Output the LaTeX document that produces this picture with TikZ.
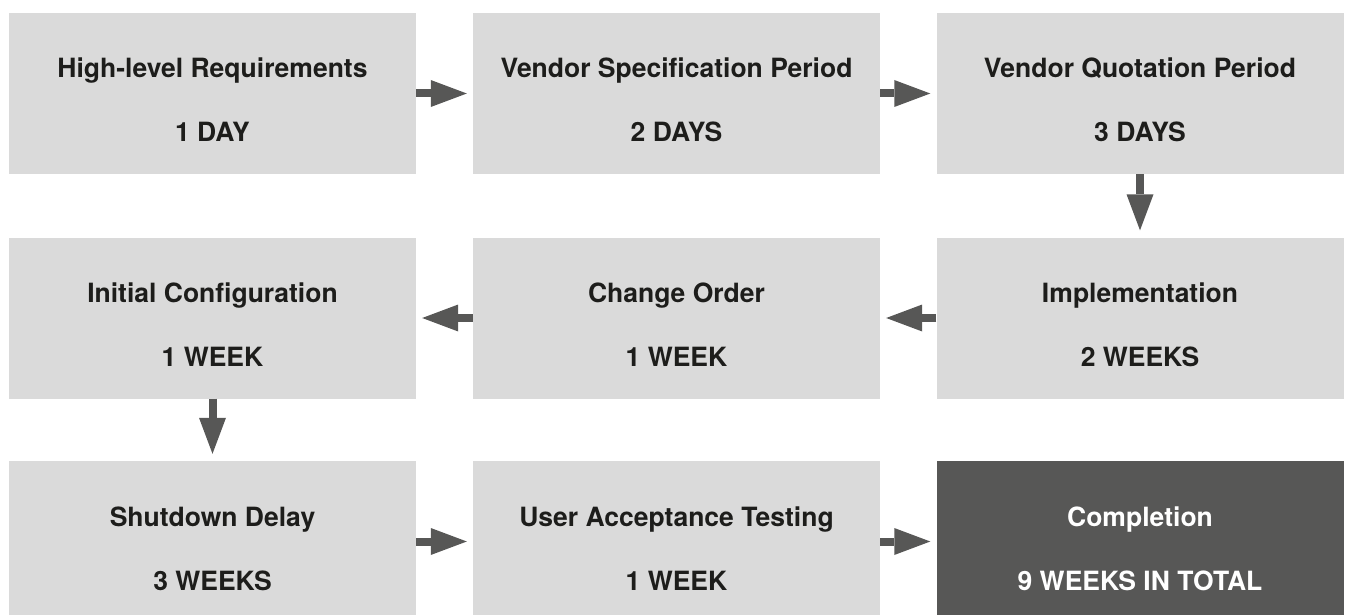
\documentclass[tikz,border=0pt]{standalone}
\usepackage{fontspec}
\setmainfont{TeX Gyre Heros}
\usetikzlibrary{arrows.meta}

\definecolor{boxgray}{HTML}{DADADA}
\definecolor{darkgray}{HTML}{575756}
\definecolor{inkblack}{HTML}{1D1D1B}

% title on the first line, duration on the second
\newcommand{\phasetext}[2]{\parbox[c][161pt][t]{407pt}{\centering\rule{0pt}{65pt}#1\\#2}}

\tikzset{
  phase/.style={rectangle, fill=boxgray, text=inkblack, inner sep=0pt,
    font=\fontsize{26.5}{64}\selectfont\bfseries},
  final/.style={phase, fill=darkgray, text=white},
  flow/.style={line width=8pt, darkgray, -{Triangle[length=36pt,width=27pt,line width=0pt]}}
}

\begin{document}
\begin{tikzpicture}[x=1pt,y=-1pt]

        % Frame
        \useasboundingbox (0,0) rectangle (1346,615);
        
        % Row 1
        \node[phase] (req)   at (212.5,93.5) {\phasetext{High-level Requirements}{1 DAY}};
        \node[phase] (spec)  at (676.5,93.5) {\phasetext{Vendor Specification Period}{2 DAYS}};
        \node[phase] (quote) at (1140,93.5)  {\phasetext{Vendor Quotation Period}{3 DAYS}};

        % Row 2
        \node[phase] (config) at (212.5,318) {\phasetext{Initial Configuration}{1 WEEK}};
        \node[phase] (change) at (676.5,318) {\phasetext{Change Order}{1 WEEK}};
        \node[phase] (impl)   at (1140,318)  {\phasetext{Implementation}{2 WEEKS}};

        % Row 3
        \node[phase] (shutdown) at (212.5,541.5) {\phasetext{Shutdown Delay}{3 WEEKS}};
        \node[phase] (uat)      at (676.5,541.5) {\phasetext{User Acceptance Testing}{1 WEEK}};
        \node[final] (done)     at (1140,541.5)  {\phasetext{Completion}{9 WEEKS IN TOTAL}};

        % Arrows
        \draw[flow] (req.east) -- ([xshift=-6pt]spec.west);
        \draw[flow] (spec.east) -- ([xshift=-6pt]quote.west);
        \draw[flow] (quote.south) -- ([yshift=7pt]impl.north);
        \draw[flow] (impl.west) -- ([xshift=6pt]change.east);
        \draw[flow] (change.west) -- ([xshift=6pt]config.east);
        \draw[flow] (config.south) -- ([yshift=7pt]shutdown.north);
        \draw[flow] (shutdown.east) -- ([xshift=-6pt]uat.west);
        \draw[flow] (uat.east) -- ([xshift=-6pt]done.west);
    \end{tikzpicture}
\end{document}
